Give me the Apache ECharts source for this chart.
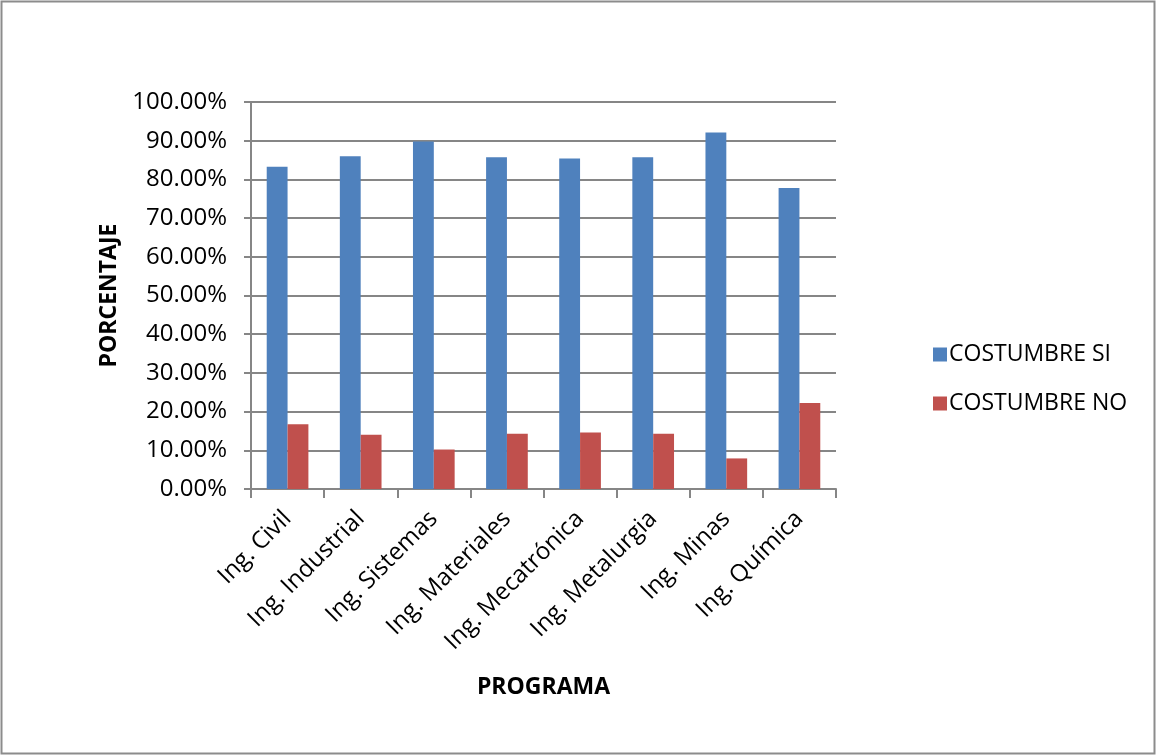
<!DOCTYPE html>
<html>
<head>
<meta charset="utf-8">
<script src="https://cdn.jsdelivr.net/npm/echarts@6/dist/echarts.min.js"></script>
<style>
  html, body { margin: 0; padding: 0; background: #fff; }
  #chart { width: 1156px; height: 755px; }
</style>
</head>
<body>
<div id="chart"></div>
<script>
// Programas académicos
const categories = ['Ing. Civil', 'Ing. Industrial', 'Ing. Sistemas', 'Ing. Materiales',
  'Ing. Mecatrónica', 'Ing. Metalurgia', 'Ing. Minas', 'Ing. Química'];
// Porcentajes por programa (%)
const costumbreSi = [83.3, 86.0, 89.8, 85.7, 85.4, 85.7, 92.1, 77.8];
const costumbreNo = [16.7, 14.0, 10.2, 14.3, 14.6, 14.3, 7.9, 22.2];
const seriesNames = ['COSTUMBRE SI', 'COSTUMBRE NO'];

const FONT = '"Open Sans", sans-serif';
const AXIS_GRAY = '#868686';

const chart = echarts.init(document.getElementById('chart'), null, { renderer: 'canvas' });
chart.setOption({
  backgroundColor: '#ffffff',
  animation: false,
  textStyle: { fontFamily: FONT, color: '#000' },
  graphic: [{
    type: 'rect',
    shape: { x: 1.5, y: 1.5, width: 1153, height: 752 },
    style: { fill: 'none', stroke: '#8c8c8c', lineWidth: 2 },
    silent: true
  }],
  grid: { left: 251, right: 320, top: 102, bottom: 266, containLabel: false },
  legend: {
    orient: 'vertical',
    left: 928,
    top: 338,
    itemWidth: 14,
    itemHeight: 14,
    itemGap: 26,
    icon: 'rect',
    textStyle: { fontFamily: FONT, fontSize: 23, color: '#000', padding: [0, 0, 0, -3] },
    data: seriesNames
  },
  xAxis: {
    type: 'category',
    data: categories,
    name: 'PROGRAMA',
    nameLocation: 'middle',
    nameGap: 187,
    nameTextStyle: { fontFamily: FONT, fontSize: 23, fontWeight: 'bold', color: '#000' },
    axisLine: { lineStyle: { color: AXIS_GRAY, width: 2 } },
    axisTick: { show: true, length: 9, alignWithLabel: false, lineStyle: { color: AXIS_GRAY, width: 2 } },
    axisLabel: { rotate: 45, fontSize: 24, margin: 26, color: '#000', fontFamily: FONT, interval: 0 },
    splitLine: { show: false }
  },
  yAxis: {
    type: 'value',
    min: 0,
    max: 100,
    interval: 10,
    name: 'PORCENTAJE',
    nameLocation: 'middle',
    nameGap: 126,
    nameRotate: 90,
    nameTextStyle: { fontFamily: FONT, fontSize: 23, fontWeight: 'bold', color: '#000' },
    axisLine: { show: true, lineStyle: { color: AXIS_GRAY, width: 2 } },
    axisTick: { show: true, length: 7, inside: false, lineStyle: { color: AXIS_GRAY, width: 2 } },
    axisLabel: {
      fontSize: 24, margin: 24, color: '#000', fontFamily: FONT,
      formatter: v => v.toFixed(2) + '%'
    },
    splitLine: { lineStyle: { color: AXIS_GRAY, width: 2 } }
  },
  series: [
    {
      name: seriesNames[0], type: 'bar', data: costumbreSi,
      barGap: '0%', barCategoryGap: '43%',
      itemStyle: { color: '#4F81BD' }
    },
    {
      name: seriesNames[1], type: 'bar', data: costumbreNo,
      barGap: '0%', barCategoryGap: '43%',
      itemStyle: { color: '#C0504D' }
    }
  ]
});
</script>
</body>
</html>
